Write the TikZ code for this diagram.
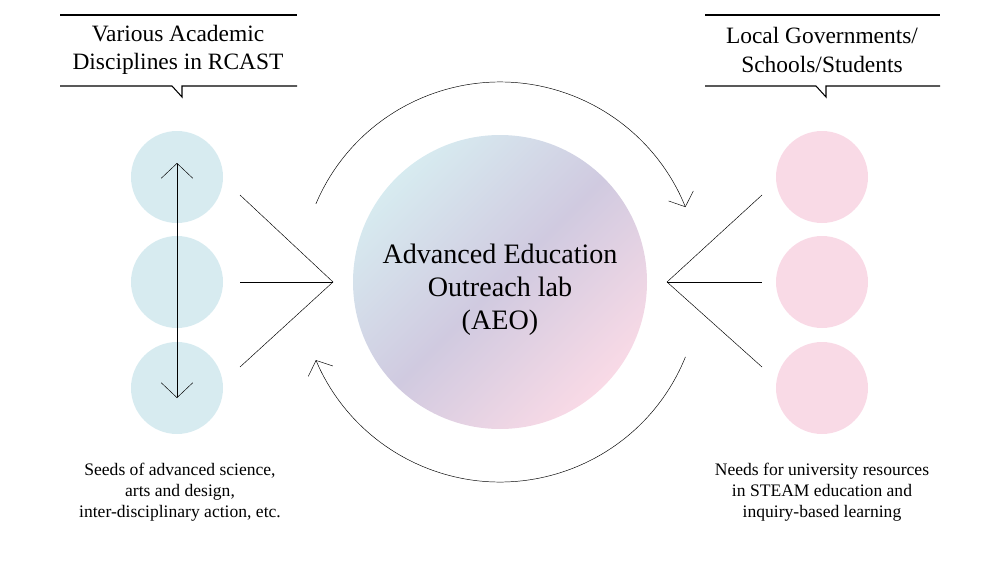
\documentclass[tikz,border=0pt]{standalone}
\usepackage{fontspec}
\setmainfont{Liberation Serif}
\usetikzlibrary{arrows.meta,positioning}
\definecolor{seedblue}{RGB}{215,235,240}
\definecolor{needpink}{RGB}{249,218,230}
\definecolor{midlav}{RGB}{208,202,224}
\tikzset{
    seed/.style={circle, fill=seedblue, minimum size=92*0.03cm, inner sep=0pt},
    need/.style={circle, fill=needpink, minimum size=92*0.03cm, inner sep=0pt},
    head/.style={align=center, font=\fontsize{20}{24}\selectfont},
    note/.style={align=center, font=\fontsize{15}{18}\selectfont},
    fan/.style={thin},
    cycle/.style={thin, -{Straight Barb[length=0.35cm,width=0.8cm]}},
}
\begin{document}
\begin{tikzpicture}[x=0.03cm, y=-0.03cm]
    \useasboundingbox (0,0) rectangle (1000,563);
    % circles
    \foreach \i/\y in {1/177,2/282,3/388} {
        \node[seed] (seed\i) at (177,\y) {};
        \node[need] (need\i) at (822,\y) {};
    }
    \shade[left color=seedblue, right color=needpink, middle color=midlav, shading angle=45]
        (500,282) circle (147);
    \node[font=\fontsize{24}{28}\selectfont, align=center] (aeo) at (500,290)
        {Advanced Education\\Outreach lab\\(AEO)};

    % arrow between seeds
    \draw[{Straight Barb[length=0.45cm,width=0.95cm]}-{Straight Barb[length=0.45cm,width=0.95cm]}]
        (seed1.center) ++(0,-14) coordinate (up) (seed3.center) ++(0,10) coordinate (down)
        (up) -- (down);

    % fans
    \coordinate (hubL) at (333,282);
    \coordinate (hubR) at (667,282);
    \foreach \i/\y in {1/195,2/282,3/367} {
        \draw[fan] (hubL) -- (240,\y);
        \draw[fan] (hubR) -- (762,\y);
    }

    % cycle arcs
    \draw[cycle] (500,282) ++(-157:200) arc[start angle=-157, end angle=-22, radius=200];
    \draw[cycle] (500,282) ++(22:200) arc[start angle=22, end angle=157, radius=200];

    % headers
    \node[head] (headL) at (178,50) {Various Academic\\Disciplines in RCAST};
    \node[head] (headR) at (822,50) {Local Governments/\\Schools/Students};
    \foreach \a/\b/\n in {60/297/178,705/940/822} {
        \draw[line width=0.9pt] (\a,15) -- (\b,15);
        \draw[line width=0.9pt] (\a,86) -- (\n-6,86) -- (\n+4,97) -- (\n+4,86) -- (\b,86);
    }

    % notes
    \node[note] (noteL) at (180,492) {Seeds of advanced science,\\arts and design,\\inter-disciplinary action, etc.};
    \node[note] (noteR) at (822,492) {Needs for university resources\\in STEAM education and\\inquiry-based learning};
\end{tikzpicture}
\end{document}
